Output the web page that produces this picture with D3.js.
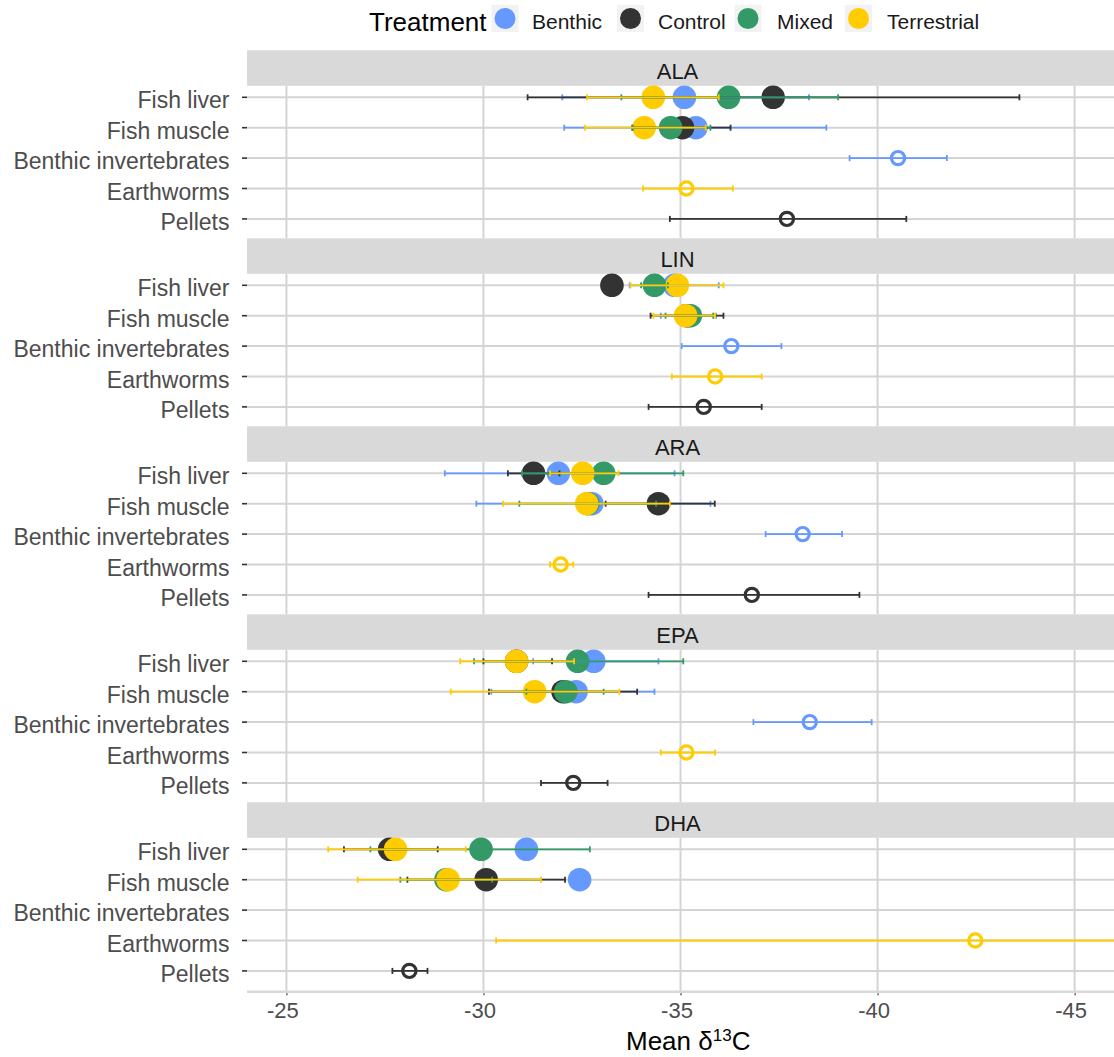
<!DOCTYPE html>
<html>
<head>
<meta charset="utf-8">
<script src="https://cdn.jsdelivr.net/npm/d3@7"></script>
<style>
  body { margin: 0; background: #ffffff; }
  svg { display: block; }
  text { font-family: "Liberation Sans", Arial, Helvetica, sans-serif; }
</style>
</head>
<body>
<svg id="chart" width="1114" height="1057"></svg>
<script>
// Facets, rows and groups
const fattyAcids = ["ALA", "LIN", "ARA", "EPA", "DHA"];
const tissues = ["Fish liver", "Fish muscle", "Benthic invertebrates", "Earthworms", "Pellets"];
const dietTissues = ["Benthic invertebrates", "Earthworms", "Pellets"];
const treatments = ["Benthic", "Control", "Mixed", "Terrestrial"];
const treatmentColors = ["#6699FF", "#333333", "#339966", "#FFCC00"];
const xTickValues = [-25, -30, -35, -40, -45];
const xTickLabels = ["-25", "-30", "-35", "-40", "-45"];
const xDomain = [-24, -46];

// Mean δ13C with error-bar limits: [fatty acid, tissue, mean, lower, upper]
const benthic = [
  ["ALA", "Fish liver", -35.10, -32.00, -38.26],
  ["ALA", "Fish muscle", -35.39, -32.05, -38.70],
  ["ALA", "Benthic invertebrates", -40.52, -39.29, -41.76],
  ["LIN", "Fish liver", -34.85, -33.71, -35.97],
  ["LIN", "Fish muscle", -35.20, -34.50, -35.90],
  ["LIN", "Benthic invertebrates", -36.29, -35.03, -37.56],
  ["ARA", "Fish liver", -31.90, -29.02, -34.85],
  ["ARA", "Fish muscle", -32.75, -29.82, -35.76],
  ["ARA", "Benthic invertebrates", -38.10, -37.16, -39.10],
  ["EPA", "Fish liver", -32.80, -31.26, -34.44],
  ["EPA", "Fish muscle", -32.35, -30.20, -34.34],
  ["EPA", "Benthic invertebrates", -38.28, -36.85, -39.85],
  ["DHA", "Fish liver", -31.09, -30.90, -31.28],
  ["DHA", "Fish muscle", -32.44, -32.25, -32.63]
];
const control = [
  ["ALA", "Fish liver", -37.35, -31.12, -43.60],
  ["ALA", "Fish muscle", -35.05, -33.78, -36.27],
  ["ALA", "Pellets", -37.70, -34.73, -40.73],
  ["LIN", "Fish liver", -33.26, -33.10, -33.42],
  ["LIN", "Fish muscle", -35.15, -34.24, -36.09],
  ["LIN", "Pellets", -35.59, -34.19, -37.06],
  ["ARA", "Fish liver", -31.27, -30.62, -31.93],
  ["ARA", "Fish muscle", -34.44, -33.10, -35.87],
  ["ARA", "Pellets", -36.81, -34.19, -39.54],
  ["EPA", "Fish liver", -30.84, -30.00, -31.74],
  ["EPA", "Fish muscle", -32.02, -30.14, -33.90],
  ["EPA", "Pellets", -32.28, -31.46, -33.15],
  ["DHA", "Fish liver", -27.62, -26.46, -28.84],
  ["DHA", "Fish muscle", -30.07, -28.07, -32.07],
  ["DHA", "Pellets", -28.12, -27.69, -28.58]
];
const mixed = [
  ["ALA", "Fish liver", -36.22, -33.50, -39.00],
  ["ALA", "Fish muscle", -34.75, -33.78, -35.76],
  ["LIN", "Fish liver", -34.34, -34.00, -34.68],
  ["LIN", "Fish muscle", -35.25, -34.62, -35.83],
  ["ARA", "Fish liver", -33.05, -30.98, -35.07],
  ["ARA", "Fish muscle", -32.65, -30.91, -34.38],
  ["EPA", "Fish liver", -32.39, -29.76, -35.07],
  ["EPA", "Fish muscle", -32.09, -31.09, -33.05],
  ["DHA", "Fish liver", -29.94, -27.13, -32.70],
  ["DHA", "Fish muscle", -29.05, -27.89, -30.22]
];
const terrestrial = [
  ["ALA", "Fish liver", -34.31, -32.63, -35.97],
  ["ALA", "Fish muscle", -34.08, -32.58, -35.64],
  ["ALA", "Earthworms", -35.15, -34.05, -36.33],
  ["LIN", "Fish liver", -34.92, -33.73, -36.09],
  ["LIN", "Fish muscle", -35.13, -34.31, -35.88],
  ["LIN", "Earthworms", -35.88, -34.78, -37.06],
  ["ARA", "Fish liver", -32.52, -31.69, -33.43],
  ["ARA", "Fish muscle", -32.62, -30.50, -34.73],
  ["ARA", "Earthworms", -31.96, -31.69, -32.28],
  ["EPA", "Fish liver", -30.84, -29.41, -32.30],
  ["EPA", "Fish muscle", -31.30, -29.17, -33.45],
  ["EPA", "Earthworms", -35.15, -34.50, -35.88],
  ["DHA", "Fish liver", -27.77, -26.06, -29.55],
  ["DHA", "Fish muscle", -29.10, -26.81, -31.46],
  ["DHA", "Earthworms", -42.48, -30.32, -54.64]
];

// ---- layout ----
const plotLeft = 247, plotRight = 1114;
const firstRowY = 97.3, panelStep = 188, rowStep = 30.4;
const stripH = 35.5, stripGap = 11.5;
const axisLineY = 991.7;

const svg = d3.select("#chart");
const color = d3.scaleOrdinal().domain(treatments).range(treatmentColors);
const x = d3.scaleLinear().domain(xDomain).range([plotLeft, plotRight]);
const yRow = d3.scalePoint().domain(tissues).range([0, rowStep * (tissues.length - 1)]);
const panelY = d3.scalePoint().domain(fattyAcids).range([firstRowY, firstRowY + panelStep * (fattyAcids.length - 1)]);

const records = [];
[benthic, control, mixed, terrestrial].forEach((rows, gi) => {
  rows.forEach(r => records.push({
    treatment: treatments[gi], fa: r[0], tissue: r[1], mean: r[2], lo: r[3], hi: r[4],
    diet: dietTissues.includes(r[1])
  }));
});

svg.append("defs").append("clipPath").attr("id", "plotClip")
  .append("rect").attr("x", plotLeft).attr("y", 0)
  .attr("width", plotRight - plotLeft).attr("height", 1057);

const gridColor = "#d4d4d4";

fattyAcids.forEach((fa, i) => {
  const top = panelY(fa);                 // y of first row
  const stripBottom = top - stripGap;
  const stripTop = stripBottom - stripH;
  const isLast = i === fattyAcids.length - 1;
  const nextStripTop = isLast ? axisLineY : panelY(fattyAcids[i + 1]) - stripGap - stripH;

  const g = svg.append("g");

  // strip
  g.append("rect").attr("x", plotLeft).attr("y", stripTop)
    .attr("width", plotRight - plotLeft).attr("height", stripH).attr("fill", "#d9d9d9");
  g.append("text").attr("x", (plotLeft + plotRight) / 2 - 3).attr("y", stripBottom - 6.5)
    .attr("text-anchor", "middle").attr("font-size", 22).attr("fill", "#1a1a1a").text(fa);

  // vertical grid
  g.selectAll(".vg").data(xTickValues).join("line")
    .attr("x1", d => x(d)).attr("x2", d => x(d))
    .attr("y1", stripBottom).attr("y2", nextStripTop)
    .attr("stroke", gridColor).attr("stroke-width", 2);

  // horizontal grid + y ticks + labels
  tissues.forEach(t => {
    const yy = top + yRow(t);
    g.append("line").attr("x1", plotLeft).attr("x2", plotRight).attr("y1", yy).attr("y2", yy)
      .attr("stroke", gridColor).attr("stroke-width", 2);
    g.append("line").attr("x1", 242).attr("x2", 247).attr("y1", yy).attr("y2", yy)
      .attr("stroke", "#333333").attr("stroke-width", 1.6);
    g.append("text").attr("x", 229.5).attr("y", yy + 11)
      .attr("text-anchor", "end").attr("font-size", 23).attr("fill", "#4d4d4d").text(t);
  });

  // marks
  const data = records.filter(d => d.fa === fa);
  const m = g.append("g").attr("clip-path", "url(#plotClip)");

  // filled points for fish tissues
  m.selectAll(".pt").data(data.filter(d => !d.diet)).join("circle")
    .attr("cx", d => x(d.mean)).attr("cy", d => top + yRow(d.tissue))
    .attr("r", 11.8).attr("fill", d => color(d.treatment));
  // open points for diet items
  m.selectAll(".op").data(data.filter(d => d.diet)).join("circle")
    .attr("cx", d => x(d.mean)).attr("cy", d => top + yRow(d.tissue))
    .attr("r", 6.6).attr("fill", "none").attr("stroke", d => color(d.treatment)).attr("stroke-width", 3.2);

  // error bars
  const eb = m.selectAll(".eb").data(data).join("g")
    .attr("stroke", d => color(d.treatment)).attr("stroke-width", 1.8);
  eb.append("line")
    .attr("x1", d => x(d.lo)).attr("x2", d => x(d.hi))
    .attr("y1", d => top + yRow(d.tissue)).attr("y2", d => top + yRow(d.tissue));
  eb.append("line")
    .attr("x1", d => x(d.lo)).attr("x2", d => x(d.lo))
    .attr("y1", d => top + yRow(d.tissue) - 3).attr("y2", d => top + yRow(d.tissue) + 3);
  eb.append("line")
    .attr("x1", d => x(d.hi)).attr("x2", d => x(d.hi))
    .attr("y1", d => top + yRow(d.tissue) - 3).attr("y2", d => top + yRow(d.tissue) + 3);
});

// bottom axis
const axisG = svg.append("g").attr("transform", `translate(0,${axisLineY})`)
  .call(d3.axisBottom(x).tickValues(xTickValues).tickFormat((d, i) => xTickLabels[i])
    .tickSize(3.5).tickSizeOuter(0).tickPadding(7));
axisG.select(".domain").attr("stroke", "#d9d9d9").attr("stroke-width", 2.6)
  .attr("d", `M${plotLeft},0H${plotRight}`);
axisG.selectAll(".tick line").attr("stroke", "#333333").attr("stroke-width", 1.2).attr("y1", 1.5);
axisG.selectAll(".tick text").attr("font-size", 22).attr("fill", "#4d4d4d")
  .attr("font-family", "Liberation Sans, Arial, sans-serif").attr("dx", -4);

// x title
const title = svg.append("text").attr("x", 626).attr("y", 1050)
  .attr("font-size", 26).attr("fill", "#000000");
title.append("tspan").text("Mean δ");
title.append("tspan").attr("font-size", 17).attr("dy", -9).text("13");
title.append("tspan").attr("dy", 9).text("C");

// legend
const legend = svg.append("g");
legend.append("text").attr("x", 369).attr("y", 30.5).attr("font-size", 26).attr("fill", "#000000").text("Treatment");
const keyCenters = [505, 630.5, 748, 858.5];
const labelStarts = [532, 658, 777, 887];
treatments.forEach((t, i) => {
  legend.append("rect").attr("x", keyCenters[i] - 13.5).attr("y", 5).attr("width", 27).attr("height", 27)
    .attr("fill", "#f2f2f2");
  legend.append("circle").attr("cx", keyCenters[i]).attr("cy", 18.5).attr("r", 10.5).attr("fill", color(t));
  legend.append("text").attr("x", labelStarts[i]).attr("y", 28.5).attr("font-size", 21)
    .attr("fill", "#1a1a1a").text(t);
});
</script>
</body>
</html>
